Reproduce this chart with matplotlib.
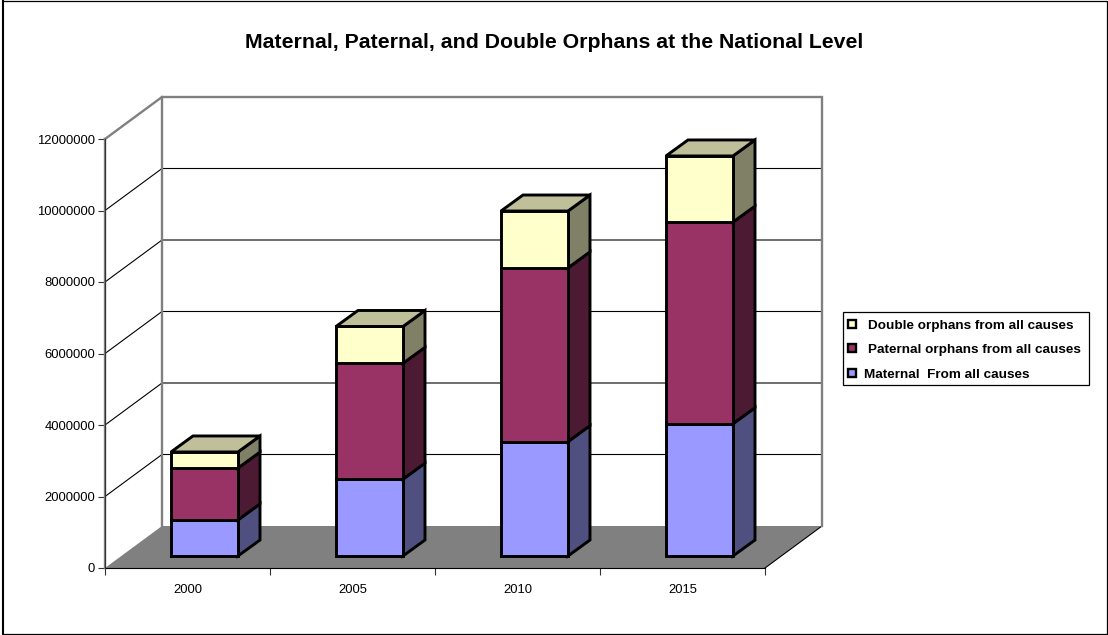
import matplotlib
matplotlib.use("Agg")
import matplotlib.pyplot as plt
from matplotlib.lines import Line2D
from matplotlib.patches import Polygon, Rectangle

plt.rcParams['font.family'] = ['Liberation Sans', 'DejaVu Sans']

years = ['2000', '2005', '2010', '2015']
maternal = [1010000, 2150000, 3200000, 3700000]
paternal = [1450000, 3240000, 4860000, 5640000]
double = [450000, 1030000, 1590000, 1850000]
y_ticks = [0, 2000000, 4000000, 6000000, 8000000, 10000000, 12000000]

series_names = ['Maternal  From all causes', 'Paternal orphans from all causes', 'Double orphans from all causes']
front_colors = ['#9999FF', '#993366', '#FFFFCC']
side_colors = ['#4F4F80', '#4D1A33', '#808066']
top_color = '#BFBF99'

W, H = 1108, 635
AX_L, AX_R, AX_T, AX_B = 105, 765, 139, 568

# size of one pixel in data units
PX = len(years) / (AX_R - AX_L)
PY = y_ticks[-1] / (AX_B - AX_T)

# 3d look: how far the back wall sits from the front plane
WALL_DX, WALL_DY = 57 * PX, 42 * PY
BAR_SHIFT_X, BAR_SHIFT_Y = 17 * PX, 12 * PY
BAR_DX, BAR_DY = 22 * PX, 16 * PY
BAR_W = 67 * PX


def draw_walls(ax):
    xmax = len(years)
    ymax = y_ticks[-1]
    floor = [(0, 0), (xmax, 0), (xmax + WALL_DX, WALL_DY), (WALL_DX, WALL_DY)]
    ax.add_patch(Polygon(floor, closed=True, facecolor='#808080', edgecolor='none', clip_on=False, zorder=1))
    for t in y_ticks[1:-1]:
        ax.plot([0, WALL_DX, xmax + WALL_DX], [t, t + WALL_DY, t + WALL_DY], color='black', lw=0.8, clip_on=False, zorder=1)
    ax.plot([xmax, xmax + WALL_DX], [0, WALL_DY], color='black', lw=0.8, clip_on=False, zorder=2)
    ax.plot([0, WALL_DX, xmax + WALL_DX, xmax + WALL_DX], [ymax, ymax + WALL_DY, ymax + WALL_DY, WALL_DY],
            color='#808080', lw=1.7, clip_on=False, zorder=2, solid_joinstyle='miter')
    ax.plot([WALL_DX, WALL_DX], [ymax + WALL_DY, WALL_DY], color='#808080', lw=1.7, clip_on=False, zorder=2)
    ax.plot([0, 0], [0, ymax], color='#808080', lw=1.7, clip_on=False, zorder=2)


def draw_bar(ax, i, stacks):
    x0 = i + 0.5 - BAR_W / 2 + BAR_SHIFT_X
    x1 = x0 + BAR_W
    base = BAR_SHIFT_Y
    style = dict(edgecolor='black', lw=2.1, clip_on=False, zorder=5, joinstyle='miter')
    for val, front, side in zip(stacks, front_colors, side_colors):
        top = base + val
        ax.add_patch(Polygon([(x1, base), (x1 + BAR_DX, base + BAR_DY), (x1 + BAR_DX, top + BAR_DY), (x1, top)],
                             closed=True, facecolor=side, **style))
        ax.add_patch(Polygon([(x0, base), (x1, base), (x1, top), (x0, top)],
                             closed=True, facecolor=front, **style))
        base = top
    ax.add_patch(Polygon([(x0, base), (x1, base), (x1 + BAR_DX, base + BAR_DY), (x0 + BAR_DX, base + BAR_DY)],
                         closed=True, facecolor=top_color, **style))


def draw_legend(fig):
    fig.add_artist(Rectangle((843 / W, 1 - 385 / H), 246 / W, 73 / H, transform=fig.transFigure,
                             facecolor='white', edgecolor='black', lw=0.9))
    rows = [(324, 868, 2), (348, 868, 1), (373, 864, 0)]
    for y, text_x, idx in rows:
        fig.add_artist(Rectangle((848 / W, 1 - (y + 4) / H), 8 / W, 8 / H, transform=fig.transFigure,
                                 facecolor=front_colors[idx], edgecolor='black', lw=1.7))
        fig.text(text_x / W, 1 - (y + 1.5) / H, series_names[idx], fontsize=9.7, fontweight='bold', va='center', ha='left')


def draw_frame(fig):
    left, right, top, bottom = 3 / W, 1107 / W, 1 - 0.7 / H, 1 - 634 / H
    fig.add_artist(Line2D([left, left], [bottom, top], color='black', lw=1.5, transform=fig.transFigure))
    fig.add_artist(Line2D([left, right, right, left], [top, top, bottom, bottom], color='black', lw=0.9,
                          transform=fig.transFigure))


def main():
    fig = plt.figure(figsize=(W / 100, H / 100), dpi=100, facecolor='white')
    draw_frame(fig)
    ax = fig.add_axes([AX_L / W, 1 - AX_B / H, (AX_R - AX_L) / W, (AX_B - AX_T) / H])
    ax.patch.set_alpha(0)
    ax.set_xlim(0, len(years))
    ax.set_ylim(0, y_ticks[-1])

    draw_walls(ax)
    for i in range(len(years)):
        draw_bar(ax, i, [maternal[i], paternal[i], double[i]])

    ax.set_yticks(y_ticks)
    ax.set_yticklabels([str(t) for t in y_ticks], fontsize=9.4)
    ax.set_xticks(range(len(years) + 1))
    ax.set_xticklabels([])
    ax.set_xticks([i + 0.5 for i in range(len(years))], minor=True)
    ax.set_xticklabels(years, minor=True, fontsize=9.4)
    ax.tick_params(axis='x', which='minor', length=0, pad=11.5)
    ax.tick_params(axis='x', which='major', length=5, width=0.8, color='#333333')
    ax.tick_params(axis='y', length=5, width=0.8, color='#333333', pad=2.2)
    for name in ['top', 'right']:
        ax.spines[name].set_visible(False)
    ax.spines['left'].set_color('#333333')
    ax.spines['left'].set_linewidth(0.8)
    ax.spines['left'].set_zorder(3)
    ax.spines['bottom'].set_color('black')
    ax.spines['bottom'].set_linewidth(0.8)

    fig.text(554.5 / W, 1 - 42 / H, 'Maternal, Paternal, and Double Orphans at the National Level',
             fontsize=15.35, fontweight='bold', ha='center', va='center')
    draw_legend(fig)
    fig.savefig('out.png', dpi=100)


if __name__ == "__main__":
    main()
